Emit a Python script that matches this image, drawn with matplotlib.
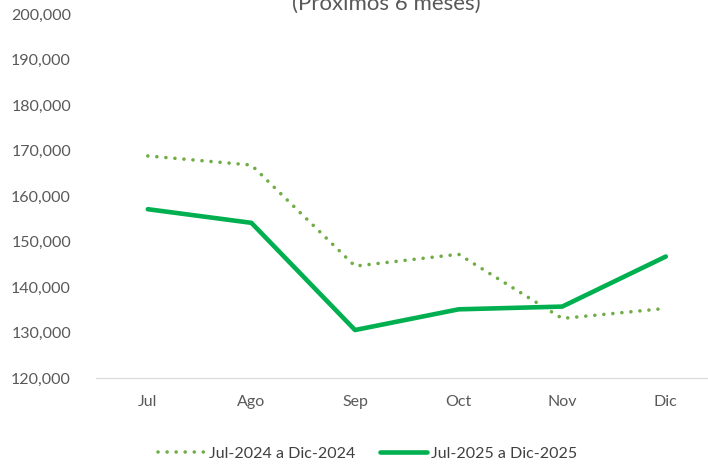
import matplotlib.pyplot as plt
from matplotlib.ticker import FuncFormatter

plt.rcParams['font.family'] = ['Lato', 'DejaVu Sans']

# Datos por mes
meses = ['Jul', 'Ago', 'Sep', 'Oct', 'Nov', 'Dic']
serie_2024 = [168800, 166800, 144600, 147200, 133100, 135300]
serie_2025 = [157100, 154100, 130550, 135100, 135700, 146700]

fig = plt.figure(figsize=(7.08, 4.65), dpi=100)
ax = fig.add_axes([0.1356, 0.187, 0.878, 0.783])

x = list(range(len(meses)))
ax.plot(x, serie_2024, color='#70AD47', linestyle=(0, (0.01, 2.5)), linewidth=2.6,
        dash_capstyle='round', label='Jul-2024 a Dic-2024')
ax.plot(x, serie_2025, color='#00B050', linewidth=3.3, solid_capstyle='round',
        label='Jul-2025 a Dic-2025')

ax.set_xlim(-0.5, len(meses) - 0.5)
ax.set_ylim(120000, 200000)
ax.set_yticks(range(120000, 200001, 10000))
ax.yaxis.set_major_formatter(FuncFormatter(lambda v, p: f'{int(v):,}'))
ax.set_xticks(x)
ax.set_xticklabels(meses)

for lado in ['top', 'right', 'left']:
    ax.spines[lado].set_visible(False)
ax.spines['bottom'].set_color('#D9D9D9')
ax.tick_params(axis='both', length=0, labelsize=11.5, colors='#595959')
ax.tick_params(axis='x', pad=12)
ax.tick_params(axis='y', pad=18)

fig.text(0.545, 0.978, '(Próximos 6 meses)', ha='center', va='baseline',
         fontsize=16, color='#595959')

fig.legend(loc='lower center', bbox_to_anchor=(0.519, -0.022), ncol=2, frameon=False,
           fontsize=11.5, handlelength=3.0, columnspacing=1.5, handletextpad=0.2,
           labelcolor='#404040')

fig.savefig('out.png', dpi=100)
